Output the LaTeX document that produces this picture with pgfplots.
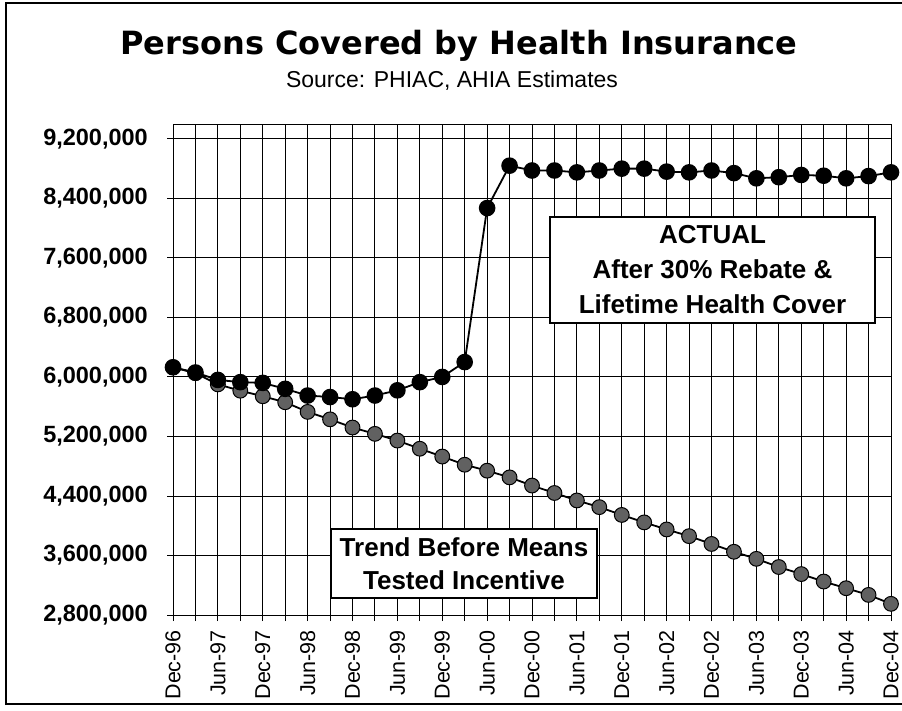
\documentclass[border=0pt]{standalone}
\usepackage{pgfplots}
\pgfplotsset{compat=1.18}
\usepackage{fontspec}
\setmainfont{Liberation Sans}
\newfontfamily\titlefont{DejaVu Sans}
\definecolor{trendgray}{gray}{0.38}

% quarter index 0 = Dec-96 ... 32 = Dec-04
\pgfplotstableread{
q  actual   trend
0  6130000  6130000
1  6060000  6050000
2  5960000  5900000
3  5930000  5815000
4  5920000  5740000
5  5840000  5660000
6  5750000  5530000
7  5730000  5430000
8  5700000  5320000
9  5750000  5235000
10 5820000  5145000
11 5930000  5035000
12 6000000  4930000
13 6200000  4820000
14 8270000  4740000
15 8840000  4650000
16 8775000  4540000
17 8775000  4440000
18 8750000  4340000
19 8775000  4250000
20 8800000  4145000
21 8800000  4045000
22 8760000  3950000
23 8750000  3860000
24 8775000  3755000
25 8740000  3650000
26 8670000  3555000
27 8685000  3445000
28 8715000  3350000
29 8705000  3250000
30 8670000  3160000
31 8700000  3070000
32 8750000  2950000
}\insured

\begin{document}
\begin{tikzpicture}[x=1pt,y=1pt]
\useasboundingbox (0,0) rectangle (902,710);
\draw[line width=1.5pt] (6,5) -- (6,707) -- (902,707);
\draw[line width=1.5pt] (6,6) -- (902,6);
\node[font=\titlefont\bfseries\fontsize{32}{38}\selectfont, anchor=base] at (459,655) {Persons Covered by Health Insurance};
\node[font=\fontsize{23}{27}\selectfont, anchor=base] at (452,622) {Source: PHIAC, AHIA Estimates};

\begin{axis}[
  at={(173pt,95pt)}, anchor=south west,
  scale only axis, width=718pt, height=491pt,
  xmin=0, xmax=32, ymin=2800000, ymax=9400000,
  xtick={0,2,...,32}, minor xtick={1,3,...,31},
  xticklabels={Dec-96,Jun-97,Dec-97,Jun-98,Dec-98,Jun-99,Dec-99,Jun-00,Dec-00,Jun-01,Dec-01,Jun-02,Dec-02,Jun-03,Dec-03,Jun-04,Dec-04},
  ytick={2800000,3600000,4400000,5200000,6000000,6800000,7600000,8400000,9200000},
  scaled y ticks=false,
  yticklabel style={/pgf/number format/fixed, /pgf/number format/precision=0,
    /pgf/number format/1000 sep={,}, /pgf/number format/assume math mode=true,
    font=\bfseries\fontsize{23.5}{27}\selectfont, inner sep=0pt, xshift=-19pt},
  xticklabel style={rotate=90, anchor=east, font=\fontsize{21.5}{25}\selectfont, inner sep=0pt, xshift=-9pt},
  grid=both,
  major grid style={black, line width=0.9pt},
  minor grid style={black, line width=0.9pt},
  tick align=outside, major tick length=6pt, minor tick length=6pt,
  tick style={black, line width=0.9pt},
  axis line style={black, line width=0.9pt},
  xtick pos=bottom, ytick pos=left,
]
\addplot[black, line width=1.8pt, mark=*, mark size=7.4pt,
  mark options={fill=trendgray, draw=black, line width=1pt}] table[x=q, y=trend] {\insured};
\addplot[black, line width=1.8pt, mark=*, mark size=7.4pt,
  mark options={fill=black}] table[x=q, y=actual] {\insured};
\end{axis}

\node[draw=black, line width=1.6pt, fill=white, minimum width=325pt, minimum height=106pt,
  align=center, font=\bfseries\fontsize{26}{35}\selectfont] at (712.5,440)
  {ACTUAL\\After 30\% Rebate \&\\Lifetime Health Cover};
\node[draw=black, line width=1.6pt, fill=white, minimum width=266pt, minimum height=69pt,
  align=center, font=\bfseries\fontsize{26}{33}\selectfont] at (464,146.5)
  {Trend Before Means\\Tested Incentive};
\end{tikzpicture}
\end{document}
